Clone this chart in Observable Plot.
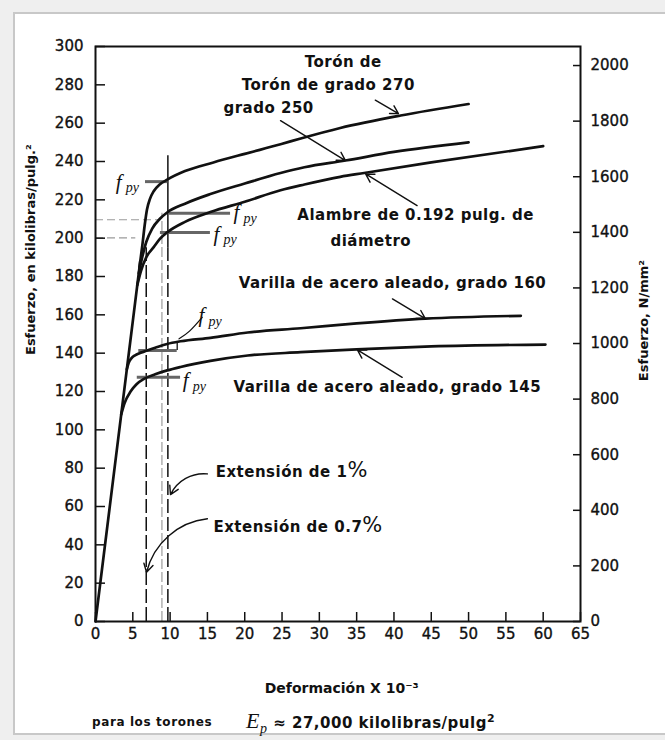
<!DOCTYPE html>
<html><head><meta charset="utf-8">
<script src="https://cdn.jsdelivr.net/npm/d3@7"></script>
<script src="https://cdn.jsdelivr.net/npm/@observablehq/plot@0.6"></script>
<style>
html,body{margin:0;padding:0;background:#efefef;width:665px;height:740px;overflow:hidden;}
#panel{position:absolute;left:13px;top:12px;width:660px;height:719px;background:#fff;border:2px solid #c8c8c8;border-right:none;}
#chart{position:absolute;left:0;top:0;}
#chart svg{overflow:visible;background:transparent;}
#chart g[aria-label$="tick label"] text{stroke:#111;stroke-width:0.35px;}
.cap{position:absolute;font-family:"DejaVu Sans";font-weight:bold;color:#111;white-space:nowrap;}
</style></head>
<body>
<div id="panel"></div>
<div id="chart"></div>
<div class="cap" style="left:92px;top:715px;font-size:12px;letter-spacing:0.6px;">para los torones</div>
<div class="cap" style="left:246px;top:708px;font-size:15px;letter-spacing:0.5px;"><i style="font-family:'Liberation Serif';font-size:22px;font-weight:normal;">E<sub style="font-size:14px;">p</sub></i> ≈ 27,000 kilolibras/pulg<sup style="font-size:11px;">2</sup></div>
<script>
// ---- data (strain ×10^-3, stress ksi) ----
const strainElastic = [0, 6.0];
const stressElastic = [0, 188];
const strain270 = [5.9, 6.3, 6.6, 6.9, 7.3, 7.8, 8.6, 9.6, 12, 15.8, 20, 24.8, 27.5, 32.8, 40.9, 50];
const stress270 = [184.9, 197, 207, 215, 220.5, 224.5, 228, 230.5, 235, 239.5, 244, 249, 252, 257.5, 264, 270];
const strain250 = [5.8, 6.2, 6.8, 7.6, 8.6, 9.6, 12, 15.4, 20, 24.8, 28, 33.5, 40, 50];
const stress250 = [181.7, 189, 198, 205, 210, 213.4, 218, 223, 228.5, 234, 237, 240.5, 245, 250];
const strainAlambre = [5.6, 6.1, 6.8, 7.8, 8.6, 9.6, 12, 15.4, 20, 24.8, 28, 32.8, 36, 45, 60];
const stressAlambre = [175.5, 183, 190, 195.3, 199.5, 203, 208.5, 213.6, 219, 225, 228, 232, 234, 239.5, 248];
const strain160 = [4.2, 4.45, 4.8, 5.3, 5.9, 6.5, 8, 9.6, 11.4, 15.4, 20.4, 27.5, 35, 44.2, 57];
const stress160 = [131.6, 135, 137.3, 138.9, 140, 140.8, 142.8, 144.8, 146.2, 148, 150.8, 153, 155.5, 158, 159.5];
const strain145 = [3.45, 3.9, 4.7, 5.5, 6.5, 8, 9.6, 11.4, 15.4, 20.4, 27.5, 35, 45, 60.3];
const stress145 = [108.1, 114, 120, 123.8, 126.6, 129, 131, 132.8, 136, 138.8, 140.5, 142, 143.5, 144.5];
const seriesNames = ["Torón de grado 270", "Torón de grado 250", "Alambre de 0.192 pulg.", "Varilla grado 160", "Varilla grado 145"];

// axis ticks
const xTicks = [0, 5, 10, 15, 20, 25, 30, 35, 40, 45, 50, 55, 60, 65];
const yTicks = [0, 20, 40, 60, 80, 100, 120, 140, 160, 180, 200, 220, 240, 260, 280, 300];
const nTicks = [0, 200, 400, 600, 800, 1000, 1200, 1400, 1600, 1800, 2000];
const ksiToNmm2 = 6.895;

// annotations
const labelText = ["Torón de", "Torón de grado 270", "grado 250", "Alambre de 0.192 pulg. de", "diámetro", "Varilla de acero aleado, grado 160", "Varilla de acero aleado, grado 145"];
const labelX = [33.2, 31.2, 23.2, 42.9, 36.9, 39.8, 39.1];
const labelY = [291.6, 279.6, 267.6, 211.8, 198.2, 176.3, 122];
const extText = ["Extensión de 1%", "Extensión de 0.7%"];
const extX = [16.1, 15.8];
const extY = [77.7, 49.2];
// straight arrows
const arrX1 = [37.5, 24.8, 43.1, 39.8, 41.1];
const arrY1 = [272, 261.3, 217, 168.3, 127.4];
const arrX2 = [40.6, 33.5, 36.2, 44.2, 35.1];
const arrY2 = [265, 240.5, 233.5, 158, 141.7];
// curved arrows
const carrX1 = [15, 15];
const carrY1 = [77, 53.6];
const carrX2 = [10.05, 6.84];
const carrY2 = [66.2, 25.7];
// f_py marks
const fpyX = [2.7, 18.5, 15.8, 13.8, 11.7];
const fpyY = [229.4, 213.5, 202.2, 159.6, 125.7];
const fpyTickX1 = [6.7, 9.8, 8.7, 5.8, 5.6];
const fpyTickX2 = [9.7, 18.1, 15.4, 10.95, 11.4];
const fpyTickY = [229.5, 213, 203, 141.4, 127.4];
const guideY = [209.6, 200.2];
const guideX2 = [8.7, 5.4];
const leaderX = [14.3, 12.6, 11.2];
const leaderY = [158.7, 151.5, 147.5];
// extension lines
const extLineX = [6.8, 9.7];
const extLineTop = [195, 195];
const solidLineX = [9.7];
const solidLineY1 = [195];
const solidLineY2 = [243];
const grayLineX = [8.9];
const grayLineTop = [213];

const lineData = [
  [strain270, stress270], [strain250, stress250], [strainAlambre, stressAlambre],
  [strain160, stress160], [strain145, stress145]
].flatMap(([xs, ys], k) => xs.map((x, i) => ({name: seriesNames[k], x, y: ys[i]})));
const elasticData = strainElastic.map((x, i) => ({x, y: stressElastic[i]}));
const idx = a => a.map((_, i) => i);

const W = 665, H = 705, mL = 95, mR = 85, mT = 46, mB = 84;
const fw = W - mL - mR, fh = H - mT - mB;
const ink = "#111";

const plot = Plot.plot({
  width: W, height: H,
  marginLeft: mL, marginRight: mR, marginTop: mT, marginBottom: mB,
  style: {fontFamily: "DejaVu Sans", fontSize: "15px", color: ink, background: "transparent"},
  x: {domain: [0, 65]},
  y: {domain: [0, 300]},
  marks: [
    // guides
    Plot.ruleY(idx(guideY), {y: i => guideY[i], x1: 0, x2: i => guideX2[i], stroke: "#9a9a9a", strokeWidth: 1.2, strokeDasharray: "8,4"}),
    Plot.ruleX(idx(grayLineX), {x: i => grayLineX[i], y1: 0, y2: i => grayLineTop[i], stroke: "#b0b0b0", strokeWidth: 1.5, strokeDasharray: "10,3"}),
    Plot.ruleX(idx(extLineX), {x: i => extLineX[i], y1: 0, y2: i => extLineTop[i], stroke: ink, strokeWidth: 1.5, strokeDasharray: "14,4"}),
    Plot.ruleX(idx(solidLineX), {x: i => solidLineX[i], y1: i => solidLineY1[i], y2: i => solidLineY2[i], stroke: ink, strokeWidth: 1.5}),
    Plot.ruleY(idx(fpyTickY), {y: i => fpyTickY[i], x1: i => fpyTickX1[i], x2: i => fpyTickX2[i], stroke: "#666", strokeWidth: 3}),
    Plot.ruleX([fpyTickX2[3]], {y1: fpyTickY[3], y2: fpyTickY[3] + 4.5, stroke: ink, strokeWidth: 1.3}),
    Plot.line(idx(leaderX), {x: i => leaderX[i], y: i => leaderY[i], curve: "natural", stroke: ink, strokeWidth: 1.3}),
    // curves
    Plot.line(elasticData, {x: "x", y: "y", stroke: ink, strokeWidth: 2.7}),
    Plot.line(lineData, {x: "x", y: "y", z: "name", stroke: ink, strokeWidth: 2.7, curve: "monotone-x"}),
    // frame + ticks
    Plot.frame({stroke: ink, strokeWidth: 2}),
    Plot.ruleY(yTicks, {insetRight: fw - 10, stroke: ink, strokeWidth: 1.5}),
    Plot.ruleY(nTicks.map(v => v / ksiToNmm2), {insetLeft: fw - 7, stroke: ink, strokeWidth: 1.5}),
    Plot.ruleX(xTicks, {insetTop: fh - 9, stroke: ink, strokeWidth: 1.5}),
    Plot.axisY(yTicks, {anchor: "left", tickSize: 0, tickPadding: 12, label: null}),
    Plot.axisY(nTicks.map(v => v / ksiToNmm2), {anchor: "right", tickSize: 0, tickPadding: 10, label: null, tickFormat: d => String(Math.round(d * ksiToNmm2))}),
    Plot.axisX(xTicks, {anchor: "bottom", tickSize: 0, tickPadding: 7, label: null}),
    // axis titles
    Plot.text(["Esfuerzo, en kilolibras/pulg.²"], {frameAnchor: "left", y: [194], dx: -65, rotate: -90, textAnchor: "middle", fontSize: 13, fontWeight: "bold", fill: ink}),
    Plot.text(["Esfuerzo, N/mm²"], {frameAnchor: "right", y: [157], dx: 63, rotate: -90, textAnchor: "middle", fontSize: 13, fontWeight: "bold", fill: ink}),
    Plot.text(["Deformación X 10⁻³"], {frameAnchor: "bottom", x: [33], dy: 71, fontSize: 14, fontWeight: "bold", fill: ink}),
    // arrows
    Plot.arrow(idx(arrX1), {x1: i => arrX1[i], y1: i => arrY1[i], x2: i => arrX2[i], y2: i => arrY2[i], stroke: ink, strokeWidth: 1.4, headLength: 10}),
    Plot.arrow(idx(carrX1), {x1: i => carrX1[i], y1: i => carrY1[i], x2: i => carrX2[i], y2: i => carrY2[i], bend: -35, stroke: ink, strokeWidth: 1.4, headLength: 10}),
    // annotation texts
    Plot.text(labelText, {x: (d, i) => labelX[i], y: (d, i) => labelY[i], text: d => d, fontSize: 15, fontWeight: "bold", fill: ink}),
    Plot.text(extText, {x: (d, i) => extX[i], y: (d, i) => extY[i], text: d => d, textAnchor: "start", fontSize: 15, fontWeight: "bold", fill: ink}),
    Plot.text(idx(fpyX), {x: i => fpyX[i], y: i => fpyY[i], text: () => "f", textAnchor: "start", fontFamily: "Liberation Serif", fontStyle: "italic", fontSize: 21, fill: ink}),
    Plot.text(idx(fpyX), {x: i => fpyX[i], y: i => fpyY[i], text: () => "py", dx: 10, dy: 6, textAnchor: "start", fontFamily: "Liberation Serif", fontStyle: "italic", fontSize: 14, fill: ink})
  ]
});
document.getElementById("chart").appendChild(plot);
const annSet = new Set([...labelText, ...extText]);
d3.select(plot).selectAll("text").each(function () {
  const t = this.textContent;
  if (annSet.has(t)) {
    d3.select(this).style("letter-spacing", "0.5px");
    if (t.endsWith("%")) {
      const sel = d3.select(this);
      sel.text(t.slice(0, -1));
      sel.append("tspan").attr("font-size", 21).attr("font-weight", "normal").text("%");
    }
  }
});
</script>
</body></html>
